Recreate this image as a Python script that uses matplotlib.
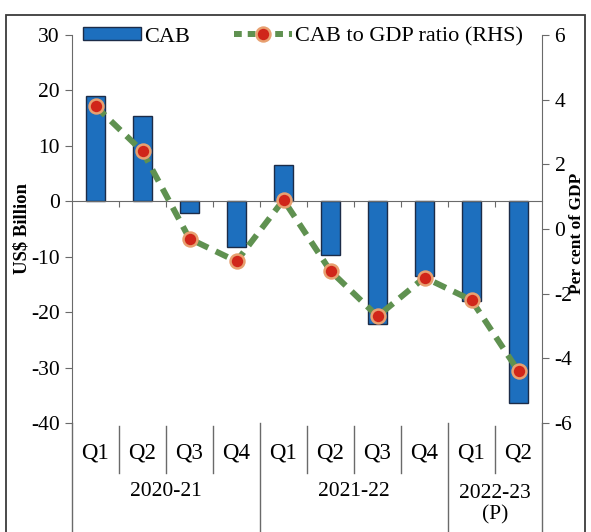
import matplotlib
matplotlib.use("Agg")
import matplotlib.pyplot as plt
from matplotlib.patches import Rectangle
from matplotlib.lines import Line2D
import numpy as np

plt.rcParams['font.family'] = ['Liberation Serif', 'DejaVu Serif']
plt.rcParams['axes.unicode_minus'] = False

quarters = ["Q1", "Q2", "Q3", "Q4", "Q1", "Q2", "Q3", "Q4", "Q1", "Q2"]
years = ["2020-21", "2021-22", "2022-23\n(P)"]
year_sizes = [4, 4, 2]
cab = [19.0, 15.3, -2.2, -8.2, 6.6, -9.7, -22.2, -13.4, -17.9, -36.4]
cab_gdp = [3.8, 2.4, -0.3, -1.0, 0.9, -1.3, -2.7, -1.5, -2.2, -4.4]

W, H = 591, 532
fig = plt.figure(figsize=(W / 100, H / 100), dpi=100)
ax_l, ax_r, ax_t, ax_b = 72, 542, 35, 423
ax = fig.add_axes([ax_l / W, 1 - ax_b / H, (ax_r - ax_l) / W, (ax_b - ax_t) / H])
ax2 = ax.twinx()

x = np.arange(len(cab))
spine_col = "#6a6a6a"
fs = 15.5
bar_col = "#1d6fbe"
bar_edge = "#1c2c48"
line_col = "#5f9150"
dot_face = "#d0261a"
dot_edge = "#e8a070"

ax.bar(x, cab, width=0.4, color=bar_col, edgecolor=bar_edge, linewidth=1.0, zorder=2)
ax.set_xlim(-0.5, len(cab) - 0.5)
ax.set_ylim(-40, 30)
ax.set_yticks(np.arange(-40, 31, 10))
ax.tick_params(axis="y", direction="out", length=5, color=spine_col, labelsize=fs, pad=4)

# zero line with boundary ticks
ax.spines["bottom"].set_position(("data", 0))
ax.spines["bottom"].set_color(spine_col)
ax.set_xticks(np.arange(0.5, len(cab) - 0.5, 1))
ax.set_xticklabels([])
ax.tick_params(axis="x", direction="out", length=4, color=spine_col)
ax.spines["top"].set_visible(False)
ax2.spines["top"].set_visible(False)
ax2.spines["bottom"].set_visible(False)
ax.spines["left"].set_color(spine_col)
ax2.spines["left"].set_visible(False)
ax2.spines["right"].set_color(spine_col)
ax.spines["right"].set_visible(False)

line_kw = dict(color=line_col, linewidth=4.3, marker="o", markersize=10,
               markerfacecolor=dot_face, markeredgecolor=dot_edge, markeredgewidth=1.8)
ax2.plot(x, cab_gdp, linestyle=(0, (2.2, 1.4)), zorder=3, **line_kw)
ax2.set_ylim(-6, 6)
ax2.set_yticks(np.arange(-6, 7, 2))
ax2.tick_params(axis="y", direction="out", length=5, color=spine_col, labelsize=fs, pad=4)

ax.set_ylabel("US$ Billion", fontsize=13.5, fontweight="bold", labelpad=0)
ax2.text((577 - ax_l) / (ax_r - ax_l), 0.49, "Per cent of GDP", transform=ax2.transAxes,
         rotation=90, ha="center", va="center", fontsize=12.5, fontweight="bold")

# category axis below the plot
h_ax = ax_b - ax_t
def fy(py):
    return (ax_b - py) / h_ax

trans = ax.get_xaxis_transform()
for i, q in enumerate(quarters):
    ax.text(i, fy(453), q, transform=trans, ha="center", va="center", fontsize=16.5, clip_on=False)

start = 0
bounds = []
for name, n in zip(years, year_sizes):
    centre = start + (n - 1) / 2
    ax.text(centre, fy(504) if "\n" in name else fy(492), name, transform=trans,
            ha="center", va="center", fontsize=fs, linespacing=1.15, clip_on=False)
    start += n
    bounds.append(start - 0.5)

year_bounds = set(bounds[:-1])
for b in np.arange(0.5, len(cab) - 0.5, 1):
    if b in year_bounds:
        y0, y1 = fy(423), fy(532)
    else:
        y0, y1 = fy(426), fy(473)
    ax.add_line(Line2D([b, b], [y0, y1], transform=trans, color=spine_col, lw=1.0, clip_on=False))

# extend outer spines through the category area
for xb in [-0.5, len(cab) - 0.5]:
    ax.add_line(Line2D([xb, xb], [0, fy(532)], transform=trans, color=spine_col, lw=1.0, clip_on=False))

# legend
handles = [Rectangle((0, 0), 1, 1, facecolor=bar_col, edgecolor=bar_edge, linewidth=1.0),
           Line2D([], [], linestyle=(0, (1.3, 1.0)), **line_kw)]
leg = ax2.legend(handles, ["CAB", "CAB to GDP ratio (RHS)"], ncol=2, frameon=False,
                 loc="center left", bbox_to_anchor=(0.023, 0.995), fontsize=16,
                 handlelength=2.6, handleheight=0.5, handletextpad=0.15,
                 columnspacing=2.0, borderpad=0, borderaxespad=0)

# outer frame
fig.add_artist(Rectangle((6 / W, -0.02), (585 - 6) / W, 1.02 - 15 / H, transform=fig.transFigure,
                         fill=False, edgecolor="#3a3a3a", linewidth=1.3))

fig.savefig("out.png", dpi=100)
